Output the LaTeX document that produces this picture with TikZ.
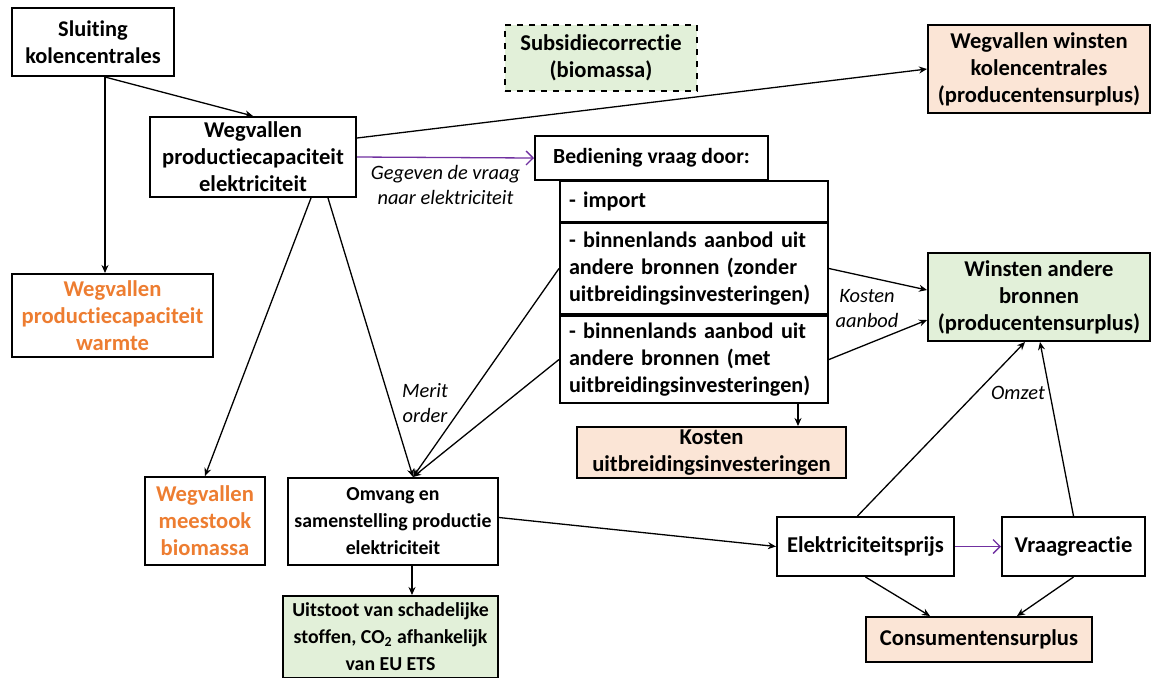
\documentclass[tikz,border=0pt]{standalone}
\usepackage{fontspec}
\setmainfont{Carlito}[Ligatures=NoCommon]
\usetikzlibrary{arrows.meta}
\definecolor{kgreen}{HTML}{E2F0D9}
\definecolor{kpeach}{HTML}{FBE5D6}
\definecolor{korange}{HTML}{ED7D31}
\definecolor{kpurple}{HTML}{7030A0}

\begin{document}
\begin{tikzpicture}[x=0.5pt,y=-0.5pt,
  box/.style={draw,line width=1pt,align=center,inner sep=0pt,
    font={\fontsize{11.3}{13.5}\selectfont\bfseries}},
  fsize/.style={font={\fontsize{#1}{13.5}\selectfont\bfseries}},
  listbox/.style={box,fsize=11.1,align=left,text width=125pt,minimum width=134pt},
  greenbox/.style={box,fill=kgreen},
  peachbox/.style={box,fill=kpeach},
  lbl/.style={align=center,inner sep=1pt,font={\fontsize{10.2}{12.5}\selectfont\itshape}},
  arr/.style={line width=0.65pt,-{Stealth[length=4pt,width=3.5pt]}},
  parr/.style={line width=0.65pt,draw=kpurple,-{Straight Barb[length=3.5pt,width=7pt]}}]
  \useasboundingbox (0,0) rectangle (1152,677);

  % left column
  \node[box,fsize=11.2,minimum width=81pt,minimum height=34pt] (sluiting) at (93,42) {Sluiting\\kolencentrales};
  \node[box,minimum width=103pt,minimum height=40pt] (wegprod) at (253,157) {Wegvallen\\productiecapaciteit\\elektriciteit};
  \node[box,text=korange,minimum width=100.5pt,minimum height=41.5pt] (warmte) at (112.5,315.5) {Wegvallen\\productiecapaciteit\\warmte};
  \node[box,text=korange,minimum width=60pt,minimum height=44pt] (meestook) at (205,521) {Wegvallen\\meestook\\biomassa};
  \node[box,fsize=9.9,minimum width=105pt,minimum height=43.5pt] (omvang) at (393,521.5) {Omvang en\\samenstelling productie\\elektriciteit};
  \node[greenbox,fsize=9.9,minimum width=107.5pt,minimum height=41pt] (uitstoot) at (390.5,637) {Uitstoot van schadelijke\\stoffen, CO\textsubscript{2} afhankelijk\\van EU ETS};

  % middle
  \node[greenbox,dashed,minimum width=96pt,minimum height=33pt] (subsidie) at (601,58) {Subsidiecorrectie\\(biomassa)};
  \node[box,fsize=10.8,minimum width=116.5pt,minimum height=22pt] (bediening) at (651.5,158) {Bediening vraag door:};
  \node[listbox,minimum height=20.5pt] (import) at (694,201.5) {- import};
  \node[listbox,minimum height=45.5pt] (zonder) at (694,268.5) {- binnenlands aanbod uit\\andere bronnen (zonder\\uitbreidingsinvesteringen)};
  \node[listbox,minimum height=43.5pt] (met) at (694,359.5) {- binnenlands aanbod uit\\andere bronnen (met\\uitbreidingsinvesteringen)};
  \node[peachbox,minimum width=134.5pt,minimum height=25.5pt] (kostenuit) at (711.5,452.5) {Kosten\\uitbreidingsinvesteringen};

  % right column
  \node[peachbox,minimum width=111pt,minimum height=44pt] (wegwinst) at (1039,69) {Wegvallen winsten\\kolencentrales\\(producentensurplus)};
  \node[greenbox,minimum width=111pt,minimum height=44pt] (winstand) at (1039,297) {Winsten andere\\bronnen\\(producentensurplus)};
  \node[box,minimum width=88.5pt,minimum height=29.5pt] (prijs) at (865.5,546.5) {Elektriciteitsprijs};
  \node[box,minimum width=71.5pt,minimum height=29.5pt] (vraag) at (1073.5,546.5) {Vraagreactie};
  \node[peachbox,minimum width=113pt,minimum height=22.5pt] (consu) at (979,639.5) {Consumentensurplus};

  % labels
  \node[lbl] (merit) at (425,403) {Merit\\order};
  \node[lbl] (kostaanb) at (867,309) {Kosten\\aanbod};
  \node[lbl] (omzet) at (1018,393) {Omzet};

  \coordinate (mo) at ([xshift=10pt]omvang.north);
  \coordinate (sl) at ([xshift=6pt]sluiting.south);

  % connectors
  \draw[arr] (sl) -- (wegprod.north);
  \draw[arr] (sl) -- (sl |- warmte.north);
  \draw[arr] ([yshift=9.5pt]wegprod.east) -- (wegwinst.west);
  \draw[parr] (wegprod.east) -- node[lbl,below=2.5pt] {Gegeven de vraag\\naar elektriciteit} (bediening.west);
  \draw[arr] ([xshift=29pt]wegprod.south) -- (meestook.north);
  \draw[arr] ([xshift=37.5pt]wegprod.south) -- (mo);
  \draw[arr] (zonder.west) -- (mo);
  \draw[arr] (met.west) -- (mo);
  \draw[arr] (zonder.east) -- ([yshift=3.5pt]winstand.west);
  \draw[arr] (met.east) -- ([yshift=-11.5pt]winstand.west);
  \draw[arr] ([xshift=52pt]met.south) -- ([xshift=52pt]met.south |- kostenuit.north);
  \draw[arr] ([yshift=2pt]omvang.east) -- (prijs.west);
  \draw[arr] ([xshift=9.5pt]omvang.south) -- ([xshift=9.5pt]omvang.south |- uitstoot.north);
  \draw[arr] ([xshift=-4pt]prijs.north) -- ([xshift=-7pt]winstand.south);
  \draw[arr] (vraag.north) -- ([xshift=0.5pt]winstand.south);
  \draw[parr] (prijs.east) -- (vraag.west);
  \draw[arr] (prijs.south) -- ([xshift=-24.5pt]consu.north);
  \draw[arr] (vraag.south) -- ([xshift=19pt]consu.north);
\end{tikzpicture}
\end{document}
